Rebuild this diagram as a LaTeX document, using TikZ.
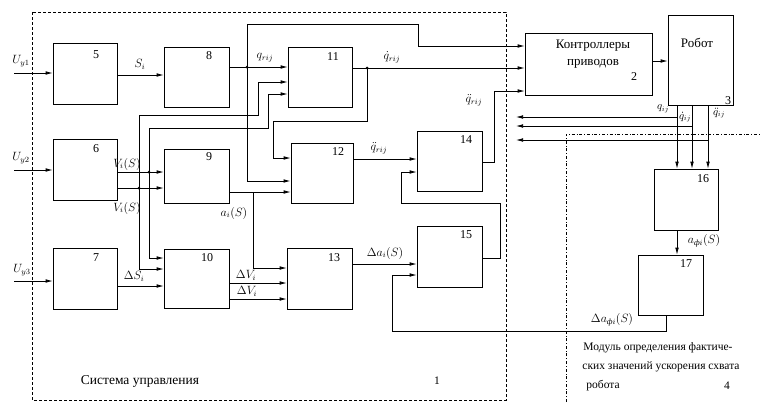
\documentclass[tikz,border=0pt]{standalone}
\usepackage{fontspec}
\usepackage{amsmath}
\setmainfont{Liberation Serif}
\usetikzlibrary{arrows.meta}
\begin{document}
\begin{tikzpicture}[x=1pt,y=-1pt,
  blk/.style={draw, line width=0.7pt, inner sep=0pt},
  ln/.style={line width=0.7pt},
  thk/.style={line width=0.95pt},
  arr/.style={line width=0.7pt, -{Latex[length=7pt,width=3.6pt]}},
  num/.style={font=\fontsize{12}{13}\selectfont, inner sep=0pt},
  lbl/.style={font=\fontsize{12}{13}\selectfont, inner sep=0pt},
  dot/.style={circle, fill, inner sep=0pt, minimum size=3pt},
  txt/.style={font=\fontsize{11.5}{13}\selectfont, inner sep=0pt}]
\useasboundingbox (0,0) rectangle (760,405);
% frames
\draw[line width=0.6pt, densely dashed] (32,12) rectangle (506,400);
\draw[line width=0.6pt, dash dot] (566,402) -- (566,134) -- (760,134);
% blocks
\node[blk, minimum width=64pt, minimum height=61pt] (b5) at (85,73.5) {};
\node[blk, minimum width=65pt, minimum height=60pt] (b8) at (196.5,77) {};
\node[blk, minimum width=64pt, minimum height=61pt] (b6) at (85,169.5) {};
\node[blk, minimum width=65pt, minimum height=54pt] (b9) at (196.5,176) {};
\node[blk, minimum width=64pt, minimum height=61pt] (b7) at (85,278.5) {};
\node[blk, minimum width=65pt, minimum height=59pt] (b10) at (196.5,278.5) {};
\node[blk, minimum width=64pt, minimum height=60pt] (b11) at (320,77) {};
\node[blk, minimum width=62pt, minimum height=60pt] (b12) at (322,173) {};
\node[blk, minimum width=65pt, minimum height=61pt] (b13) at (319.5,278.5) {};
\node[blk, minimum width=65pt, minimum height=60pt] (b14) at (449.5,161) {};
\node[blk, minimum width=65pt, minimum height=61pt] (b15) at (449.5,256.5) {};
\node[blk, minimum width=127pt, minimum height=62pt] (b2) at (588.5,64) {};
\node[blk, minimum width=65pt, minimum height=90pt] (b3) at (700.5,60) {};
\node[blk, minimum width=64pt, minimum height=61pt] (b16) at (686,199.5) {};
\node[blk, minimum width=65pt, minimum height=60pt] (b17) at (670.5,285) {};
% block numbers
\node[num] (n5) at (96,55) {5};
\node[num] (n8) at (209,56) {8};
\node[num] (n6) at (96,149) {6};
\node[num] (n9) at (209,157) {9};
\node[num] (n7) at (96,258) {7};
\node[num] (n10) at (207,258) {10};
\node[num] (n11) at (333,57) {11};
\node[num] (n12) at (338,152) {12};
\node[num] (n13) at (334,258) {13};
\node[num] (n14) at (466,140) {14};
\node[num] (n15) at (466,235) {15};
\node[num] (n2) at (634,77) {2};
\node[num] (n3) at (728,101) {3};
\node[num] (n16) at (703,179) {16};
\node[num] (n17) at (686,264) {17};
\node[txt, font=\fontsize{13}{15}\selectfont, align=center] (t2) at (593,54) {Контроллеры\\[2pt]приводов};
\node[txt, font=\fontsize{13}{15}\selectfont] (t3) at (697,43) {Робот};
\node[txt, font=\fontsize{13.5}{15}\selectfont] (t1) at (140,381) {Система управления};
\node[txt] (t1n) at (437,381) {1};
\node[txt] (t4a) at (658,348) {Модуль определения фактиче-};
\node[txt] (t4b) at (661,367) {ских значений ускорения схвата};
\node[txt] (t4c) at (603,386) {робота};
\node[txt] (t4n) at (727,386) {4};
% inputs
\coordinate (u1) at (14,73);
\coordinate (u2) at (14,170);
\coordinate (u3) at (14,281);
\draw[arr] (u1) -- (b5.west |- u1);
\draw[arr] (u2) -- (b6.west |- u2);
\draw[arr] (u3) -- (b7.west |- u3);
\node[lbl] (lu1) at (21,61) {$U_{y1}$};
\node[lbl] (lu2) at (21,158) {$U_{y2}$};
\node[lbl] (lu3) at (22,270) {$U_{y3}$};
% junction coordinates
\coordinate (j1) at (247,67);
\coordinate (j2) at (367,68);
\coordinate (j3) at (149,172);
\coordinate (j4) at (139,188);
\coordinate (j5) at (253,192);
% 5 -> 8
\draw[arr] (b5.east |- 0,75) -- (b8.west |- 0,75);
\node[lbl] (ls) at (140,64) {$S_i$};
% 8 -> 11 and branches
\draw[arr] (b8.east |- j1) -- (b11.west |- j1);
\draw[thk] (j1) |- (418,24);
\draw[arr] (418,24) |- (b2.west |- 0,46);
\draw[thk, -{Latex[length=7pt,width=3.6pt]}] (j1) |- (b12.west |- 0,181);
\node[dot] (d1) at (j1) {};
\node[lbl] (lq) at (265,58) {$q_{rij}$};
% 11 -> 2 and branch to 12
\draw[arr] (b11.east |- j2) -- (b2.west |- j2);
\draw[arr] (j2) |- (273,121) |- (b12.west |- 0,158);
\node[dot] (d2) at (j2) {};
\node[lbl] (lqd) at (392,57) {$\dot q_{rij}$};
% 6 -> 9 and branches
\draw[arr] (b6.east |- j3) -- (b9.west |- j3);
\draw[arr] (b6.east |- j4) -- (b9.west |- j4);
\draw[arr] (j4) |- (258,115) |- (b11.west |- 0,82);
\draw[arr] (j4) |- (b10.west |- 0,269);
\draw[arr] (j3) |- (268,128) |- (b11.west |- 0,94);
\draw[arr] (j3) |- (b10.west |- 0,258);
\node[dot] (d3) at (j3) {};
\node[dot] (d4) at (j4) {};
\node[lbl] (lv1) at (127,164) {$V_i(S)$};
\node[lbl] (lv2) at (127,208) {$V_i(S)$};
% 7 -> 10
\draw[arr] (b7.east |- 0,286) -- (b10.west |- 0,286);
\node[lbl] (lds) at (134,276) {$\Delta S_i$};
% 9 -> 12, 13
\draw[arr] (b9.east |- j5) -- (b12.west |- j5);
\draw[arr] (j5) |- (b13.west |- 0,268);
\node[lbl] (la) at (234,213) {$a_i(S)$};
% 10 -> 13
\draw[arr] (b10.east |- 0,283) -- (b13.west |- 0,283);
\draw[arr] (b10.east |- 0,299) -- (b13.west |- 0,299);
\node[lbl] (ldv1) at (246,275) {$\Delta V_i$};
\node[lbl] (ldv2) at (247,291) {$\Delta V_i$};
% 13 -> 15
\draw[arr] (b13.east |- 0,264) -- (b15.west |- 0,264);
\node[lbl] (lda) at (385,253) {$\Delta a_i(S)$};
% 12 -> 14
\draw[arr] (b12.east |- 0,159) -- (b14.west |- 0,159);
\node[lbl] (lqdd) at (379,148) {$\ddot q_{rij}$};
% 15 -> 14
\draw[thk] (b15.east |- 0,258) -| (500,203) -| (401,172);
\draw[arr] (401,172) -- (b14.west |- 0,172);
% 14 -> 2
\draw[thk] (b14.east |- 0,162) -| (494,91);
\draw[arr] (494,91) -- (b2.west |- 0,91);
\node[lbl] (lqdd2) at (474,100) {$\ddot q_{rij}$};
% 2 -> 3
\draw[arr] (b2.east |- 0,61) -- (b3.west |- 0,61);
% robot outputs
\coordinate (r1) at (677,117);
\coordinate (r2) at (692,126);
\coordinate (r3) at (708,140);
\coordinate (f1) at (516,117);
\coordinate (f2) at (516,126);
\coordinate (f3) at (516,140);
\draw[arr] (b3.south -| r1) -- (b16.north -| r1);
\draw[arr] (b3.south -| r2) -- (b16.north -| r2);
\draw[arr] (b3.south -| r3) -- (b16.north -| r3);
\draw[arr] (r1) -- (f1);
\draw[arr] (r2) -- (f2);
\draw[arr] (r3) -- (f3);
\node[lbl, font=\fontsize{10.5}{12}\selectfont] (lqij) at (663,109) {$q_{ij}$};
\node[lbl, font=\fontsize{10.5}{12}\selectfont] (lqijd) at (685,117) {$\dot q_{ij}$};
\node[lbl, font=\fontsize{10.5}{12}\selectfont] (lqijdd) at (719,113) {$\ddot q_{ij}$};
% 16 -> 17
\draw[arr] (b16.south -| r1) -- (b17.north -| r1);
\node[lbl] (laf) at (704,241) {$a_{\text{\itshape ф}i}(S)$};
% 17 -> 15 feedback
\draw[thk] (b17.south -| 666,0) -- (666,331) -| (392,275);
\draw[arr] (392,275) -- (b15.west |- 0,275);
\node[lbl] (ldaf) at (612,320) {$\Delta a_{\text{\itshape ф}i}(S)$};
\end{tikzpicture}
\end{document}
